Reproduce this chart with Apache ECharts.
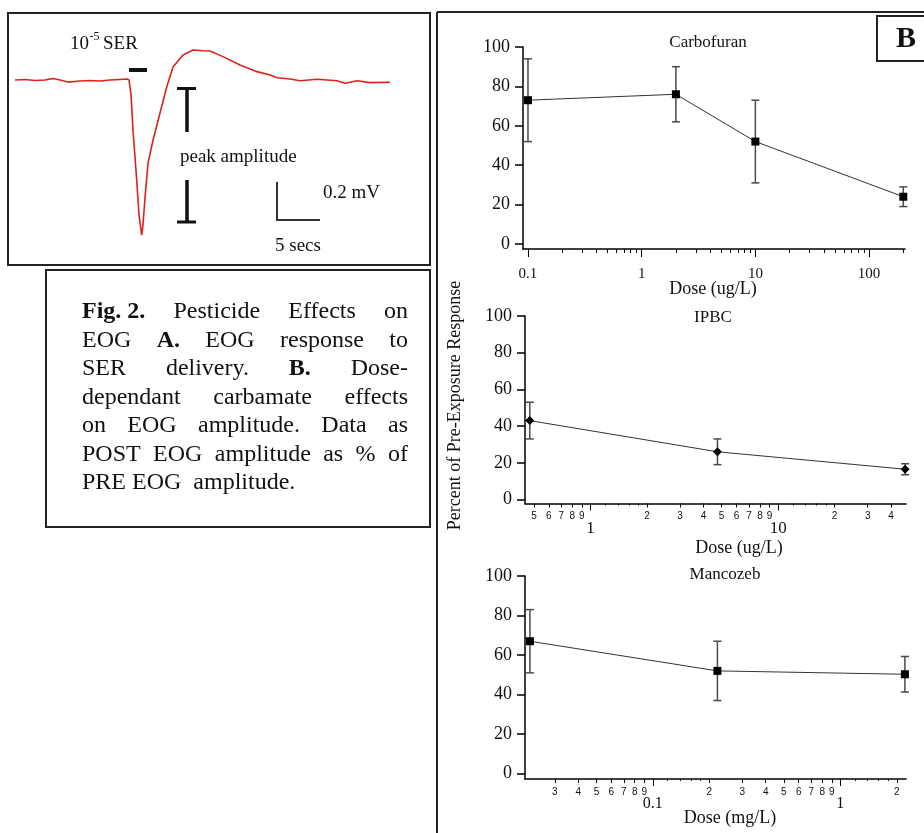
<!DOCTYPE html>
<html><head><meta charset="utf-8">
<script src="https://cdn.jsdelivr.net/npm/echarts@6/dist/echarts.min.js"></script>
<style>html,body{margin:0;padding:0;background:#fff}#chart{width:924px;height:833px}</style>
</head><body><div id="chart"></div>
<script>
// ---------- Panel A: EOG trace (time in s, potential in mV) ----------
const traceTime = [0, 1.16, 2.33, 3.49, 4.42, 5.23, 6.16, 7.56, 8.72, 9.88, 11.05, 12.21, 13.02, 13.26, 13.49, 13.72, 14.15, 14.42, 14.73, 14.88, 15.12, 15.47, 16.05, 16.86, 17.64, 18.37, 19.53, 20.70, 21.86, 22.67, 24.19, 26.16, 28.14, 29.65, 30.47, 31.98, 33.14, 35.12, 37.44, 38.37, 39.77, 41.28, 43.6];
const traceMv = [0, 0.003, -0.003, 0, 0.008, 0, -0.011, -0.005, -0.003, -0.005, 0, 0.003, 0.005, 0, -0.079, -0.263, -0.526, -0.711, -0.816, -0.763, -0.616, -0.437, -0.316, -0.174, -0.037, 0.068, 0.132, 0.158, 0.154, 0.153, 0.123, 0.079, 0.044, 0.026, 0.012, 0.005, -0.004, 0.004, -0.004, -0.017, -0.004, -0.014, -0.012];

// ---------- Panel B: dose-response data (% of pre-exposure response) ----------
const carbDose = [0.1, 2, 10, 200];
const carbMean = [73, 76, 52, 24];
const carbErr  = [21, 14, 21, 5];

const ipbcDose = [0.475, 4.75, 47.5];
const ipbcMean = [43, 26, 16.5];
const ipbcErr  = [10, 7, 3];

const mancDose = [0.0221, 0.221, 2.21];
const mancMean = [67, 52, 50.3];
const mancErr  = [16, 15, 9];

// ---------- tick values ----------
const percentTicks = [0, 20, 40, 60, 80, 100];
const carbMajorTicks = [0.1, 1, 10, 100];
const carbMinorTicks = [0.2, 0.3, 0.4, 0.5, 0.6, 0.7, 0.8, 0.9, 2, 3, 4, 5, 6, 7, 8, 9, 20, 30, 40, 50, 60, 70, 80, 90, 200];
const ipbcMajorTicks = [1, 10];
const ipbcMinorTicks = [0.5, 0.6, 0.7, 0.8, 0.9, 2, 3, 4, 5, 6, 7, 8, 9, 20, 30, 40];
const ipbcFineTicks  = [1.2, 1.4, 1.6, 1.8, 12, 14, 16, 18];
const mancMajorTicks = [0.1, 1];
const mancMinorTicks = [0.03, 0.04, 0.05, 0.06, 0.07, 0.08, 0.09, 0.2, 0.3, 0.4, 0.5, 0.6, 0.7, 0.8, 0.9, 2];
const mancFineTicks  = [0.12, 0.14, 0.16, 0.18, 1.2, 1.4, 1.6, 1.8];

const SERIF = '"Liberation Serif", "Times New Roman", serif';
const SANS = '"Liberation Sans", Arial, sans-serif';

const panels = [
  {dose: carbDose, mean: carbMean, err: carbErr, symbol: 'rect', symbolSize: 8,
   grid: {left: 523, top: 47, width: 382, height: 202}, xMin: 0.0904, xMax: 207, yMin: -2.54,
   major: carbMajorTicks, minor: carbMinorTicks, fine: [], majorLen: 8, majorFont: 15, majorMargin: 18, minorLabels: false},
  {dose: ipbcDose, mean: ipbcMean, err: ipbcErr, symbol: 'diamond', symbolSize: 9,
   grid: {left: 525, top: 316, width: 381, height: 187.5}, xMin: 0.448, xMax: 48, yMin: -2.18,
   major: ipbcMajorTicks, minor: ipbcMinorTicks, fine: ipbcFineTicks, majorLen: 7, majorFont: 17, majorMargin: 17, minorLabels: true},
  {dose: mancDose, mean: mancMean, err: mancErr, symbol: 'rect', symbolSize: 8,
   grid: {left: 525, top: 576, width: 381, height: 203}, xMin: 0.0208, xMax: 2.24, yMin: -2.68,
   major: mancMajorTicks, minor: mancMinorTicks, fine: mancFineTicks, majorLen: 7, majorFont: 16, majorMargin: 17, minorLabels: true}
];

const grids = [{left: 15, top: 42, width: 375, height: 209}];
const xAxes = [{gridIndex: 0, type: 'value', min: 0, max: 43.6, show: false}];
const yAxes = [{gridIndex: 0, type: 'value', min: -0.9, max: 0.2, show: false}];
const series = [{
  type: 'line', xAxisIndex: 0, yAxisIndex: 0, symbol: 'none', smooth: false,
  data: traceTime.map((t, i) => [t, traceMv[i]]),
  lineStyle: {color: '#e0201c', width: 1.6}, silent: true
}];

function majorFmt(v) { return String(+Math.pow(10, v).toPrecision(6)); }
function minorFmt(v) {
  const d = +Math.pow(10, v).toPrecision(6);
  const e = Math.floor(Math.log10(d) + 1e-9);
  return String(Math.round(d / Math.pow(10, e)));
}

panels.forEach((p, k) => {
  const g = k + 1;
  grids.push(p.grid);
  const lmin = Math.log10(p.xMin), lmax = Math.log10(p.xMax);
  const logIdx = xAxes.length;
  xAxes.push({gridIndex: g, type: 'log', logBase: 10, min: p.xMin, max: p.xMax, position: 'bottom', offset: 0,
    axisLine: {show: true, onZero: false, lineStyle: {color: '#000', width: 1.5}},
    axisTick: {show: false}, axisLabel: {show: false}, splitLine: {show: false}});
  const tickAxis = (vals, len, label) => ({
    gridIndex: g, type: 'value', min: lmin, max: lmax, position: 'bottom', offset: 0,
    axisLine: {show: false, onZero: false},
    axisTick: {show: vals.length > 0, customValues: vals.map(Math.log10), length: len, lineStyle: {color: '#000', width: 1}},
    axisLabel: label ? Object.assign({customValues: vals.map(Math.log10), color: '#111'}, label) : {show: false},
    splitLine: {show: false}
  });
  xAxes.push(tickAxis(p.major, p.majorLen, {formatter: majorFmt, fontFamily: SERIF, fontSize: p.majorFont, margin: p.majorMargin}));
  xAxes.push(tickAxis(p.minor, 4, p.minorLabels ? {formatter: minorFmt, fontFamily: SANS, fontSize: 10, margin: 8} : null));
  if (p.fine.length) xAxes.push(tickAxis(p.fine, 2, null));
  const yIdx = yAxes.length;
  yAxes.push({gridIndex: g, type: 'value', min: p.yMin, max: 100, position: 'left',
    axisLine: {show: true, onZero: false, lineStyle: {color: '#000', width: 1.5}},
    axisTick: {show: true, customValues: percentTicks, length: 8, lineStyle: {color: '#000', width: 1.5}},
    axisLabel: {customValues: percentTicks, margin: 13, fontFamily: SERIF, fontSize: 18, color: '#111'},
    splitLine: {show: false}});
  series.push({
    type: 'custom', xAxisIndex: logIdx, yAxisIndex: yIdx, z: 2, clip: false,
    data: p.dose.map((d, i) => [d, p.mean[i] - p.err[i], p.mean[i] + p.err[i]]),
    encode: {x: 0, y: [1, 2]},
    renderItem: (params, api) => {
      const lo = api.coord([api.value(0), api.value(1)]);
      const hi = api.coord([api.value(0), api.value(2)]);
      const c = 4, st = {stroke: '#4a4a4a', lineWidth: 1.5};
      return {type: 'group', children: [
        {type: 'line', shape: {x1: lo[0], y1: lo[1], x2: hi[0], y2: hi[1]}, style: st},
        {type: 'line', shape: {x1: lo[0] - c, y1: lo[1], x2: lo[0] + c, y2: lo[1]}, style: st},
        {type: 'line', shape: {x1: hi[0] - c, y1: hi[1], x2: hi[0] + c, y2: hi[1]}, style: st}
      ]};
    }
  });
  series.push({
    type: 'line', xAxisIndex: logIdx, yAxisIndex: yIdx, z: 3, clip: false,
    data: p.dose.map((d, i) => [d, p.mean[i]]),
    symbol: p.symbol, symbolSize: p.symbolSize,
    itemStyle: {color: '#000'}, lineStyle: {color: '#333', width: 1}
  });
});

// ---------- text / frames ----------
function txt(x, y, text, font, align, extra) {
  return Object.assign({type: 'text', x: x, y: y, silent: true,
    style: {text: text, font: font, fill: '#111', align: align || 'left', verticalAlign: 'middle',
            textAlign: align || 'left', textVerticalAlign: 'middle'}}, extra || {});
}
function ln(x1, y1, x2, y2, w, color) {
  return {type: 'line', silent: true, shape: {x1, y1, x2, y2}, style: {stroke: color || '#111', lineWidth: w}};
}
function box(x, y, w, h, lw) {
  return {type: 'rect', silent: true, shape: {x, y, width: w, height: h}, style: {fill: 'none', stroke: '#222', lineWidth: lw}};
}

const graphics = [
  box(8, 13, 422, 252, 2),
  box(46, 270, 384, 257, 2),
  ln(437, 12, 437, 833, 2, '#222'),
  ln(437, 12, 924, 12, 2, '#222'),
  box(877, 16, 60, 45, 2),
  txt(906, 39, 'B', 'bold 30px ' + SERIF, 'center'),
  // panel A annotations
  txt(70, 44, '10', '19px ' + SERIF, 'left'),
  txt(89.5, 37, '-5', '12px ' + SERIF, 'left'),
  txt(103, 44, 'SER', '19px ' + SERIF, 'left'),
  ln(129, 70, 147, 70, 4, '#111'),
  ln(177, 88.5, 196, 88.5, 3, '#111'),
  ln(187, 88, 187, 132, 3.5, '#111'),
  ln(187, 180, 187, 222, 3.5, '#111'),
  ln(177, 222, 196, 222, 3, '#111'),
  txt(180, 157, 'peak amplitude', '19px ' + SERIF, 'left'),
  ln(277, 182, 277, 220, 2, '#333'),
  ln(276, 220, 320, 220, 2, '#333'),
  txt(323, 193, '0.2 mV', '19px ' + SERIF, 'left'),
  txt(275, 246, '5 secs', '19px ' + SERIF, 'left'),
  // panel B titles and axis names
  txt(708, 43, 'Carbofuran', '17px ' + SERIF, 'center'),
  txt(713, 289, 'Dose (ug/L)', '18px ' + SERIF, 'center'),
  txt(713, 318, 'IPBC', '17px ' + SERIF, 'center'),
  txt(739, 548, 'Dose (ug/L)', '18px ' + SERIF, 'center'),
  txt(725, 575, 'Mancozeb', '17px ' + SERIF, 'center'),
  txt(730, 818, 'Dose (mg/L)', '18px ' + SERIF, 'center'),
  txt(455, 405.5, 'Percent of Pre-Exposure Response', '18px ' + SERIF, 'center', {rotation: Math.PI / 2})
];

// caption, justified between two margins
const captionLines = [
  [['Fig. 2.', 1], ['Pesticide', 0], ['Effects', 0], ['on', 0]],
  [['EOG', 0], ['A.', 1], ['EOG', 0], ['response', 0], ['to', 0]],
  [['SER', 0], ['delivery.', 0], ['B.', 1], ['Dose-', 0]],
  [['dependant', 0], ['carbamate', 0], ['effects', 0]],
  [['on', 0], ['EOG', 0], ['amplitude.', 0], ['Data', 0], ['as', 0]],
  [['POST', 0], ['EOG', 0], ['amplitude', 0], ['as', 0], ['%', 0], ['of', 0]],
  [['PRE EOG  amplitude.', 0]]
];
const capLeft = 82, capRight = 408, capTop = 312, capStep = 28.5, capSize = 24;
const mctx = document.createElement('canvas').getContext('2d');
captionLines.forEach((words, li) => {
  const y = capTop + li * capStep;
  const fonts = words.map(w => (w[1] ? 'bold ' : '') + capSize + 'px ' + SERIF);
  const widths = words.map((w, i) => { mctx.font = fonts[i]; return mctx.measureText(w[0]).width; });
  const total = widths.reduce((a, b) => a + b, 0);
  const last = li === captionLines.length - 1;
  const gap = (last || words.length < 2) ? 0 : (capRight - capLeft - total) / (words.length - 1);
  let x = capLeft;
  words.forEach((w, i) => {
    graphics.push(txt(x, y, w[0], fonts[i], 'left'));
    x += widths[i] + gap;
  });
});

const chart = echarts.init(document.getElementById('chart'), null, {renderer: 'canvas'});
chart.setOption({
  animation: false,
  backgroundColor: '#fff',
  grid: grids,
  xAxis: xAxes,
  yAxis: yAxes,
  series: series,
  graphic: {elements: graphics}
});
</script>
</body></html>
